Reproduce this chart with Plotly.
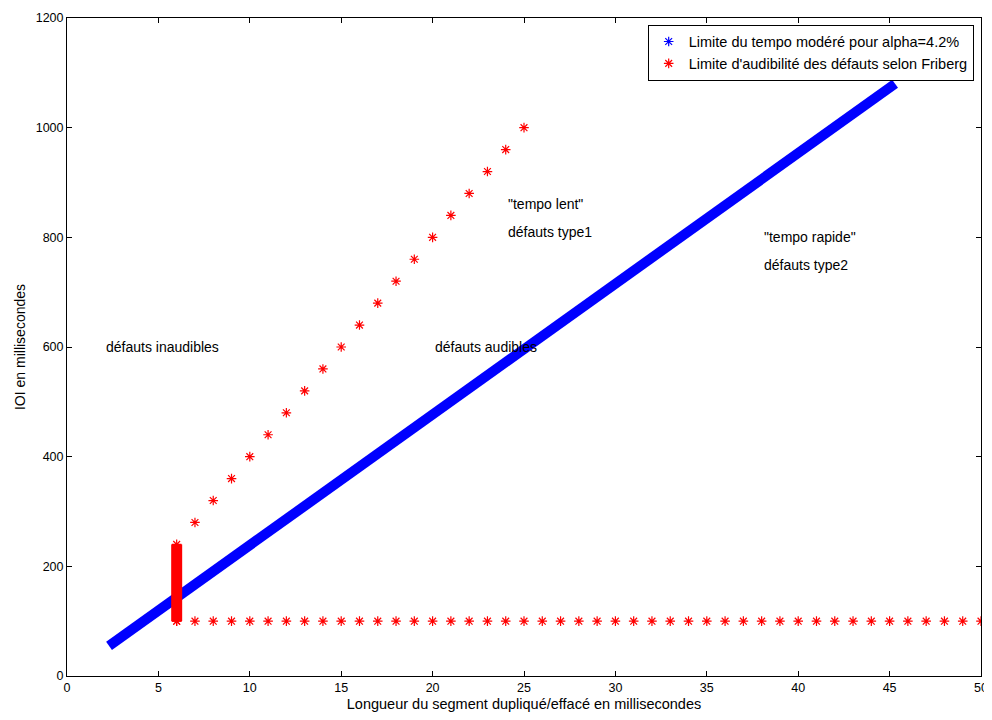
import plotly.graph_objects as go

# limite tempo modéré (alpha = 4.2%) : segment dense d'étoiles bleues
blue_x = [2.3, 45.3]
blue_y = [55, 1080]

# limite Friberg : barre verticale à 6 ms
red_bar_x = [6, 6]
red_bar_y = [100, 240]

# limite Friberg : branche "tempo lent"
red_slope_x = [7, 8, 9, 10, 11, 12, 13, 14, 15, 16, 17, 18, 19, 20, 21, 22, 23, 24, 25]
red_slope_y = [280, 320, 360, 400, 440, 480, 520, 560, 600, 640, 680, 720, 760, 800,
               840, 880, 920, 960, 1000]

# limite Friberg : plancher à 100 ms
red_floor_x = [6, 7, 8, 9, 10, 11, 12, 13, 14, 15, 16, 17, 18, 19, 20, 21, 22, 23, 24,
               25, 26, 27, 28, 29, 30, 31, 32, 33, 34, 35, 36, 37, 38, 39, 40, 41, 42,
               43, 44, 45, 46, 47, 48, 49, 50]
red_floor_y = [100] * len(red_floor_x)

labels = [
    (2, 600, "défauts inaudibles"),
    (20, 600, "défauts audibles"),
    (24, 860, "\"tempo lent\""),
    (24, 810, "défauts type1"),
    (38, 800, "\"tempo rapide\""),
    (38, 750, "défauts type2"),
]

BLUE = "#0000ff"
RED = "#ff0000"


def star(color):
    return dict(color=color, symbol="asterisk-open", size=8, line=dict(color=color, width=1.2))


fig = go.Figure()

fig.add_trace(go.Scatter(x=blue_x, y=blue_y, mode="lines",
                         line=dict(color=BLUE, width=10), showlegend=False))
fig.add_trace(go.Scatter(x=red_bar_x, y=red_bar_y, mode="lines",
                         line=dict(color=RED, width=11), showlegend=False))
fig.add_trace(go.Scatter(x=red_bar_x, y=red_bar_y, mode="markers",
                         marker=star(RED), showlegend=False))
fig.add_trace(go.Scatter(x=red_slope_x, y=red_slope_y, mode="markers",
                         marker=star(RED), showlegend=False))
fig.add_trace(go.Scatter(x=red_floor_x, y=red_floor_y, mode="markers",
                         marker=star(RED), showlegend=False))

# entrées de légende
fig.add_trace(go.Scatter(x=[None], y=[None], mode="markers",
                         name="Limite du tempo modéré pour alpha=4.2%", marker=star(BLUE)))
fig.add_trace(go.Scatter(x=[None], y=[None], mode="markers",
                         name="Limite d'audibilité des défauts selon Friberg", marker=star(RED)))

for x, y, t in labels:
    fig.add_annotation(x=x, y=y, text=t, showarrow=False, xanchor="left",
                       font=dict(size=14, color="black"))

axis_common = dict(showline=True, linecolor="black", linewidth=1, mirror="ticks",
                   ticks="inside", ticklen=5, tickcolor="black", showgrid=False,
                   zeroline=False, automargin=False,
                   tickfont=dict(size=12.5, color="black"))

# la page ajoute ~8 px de marge au body : on compense dans la taille et les marges
fig.update_layout(
    width=984, height=712,
    margin=dict(l=59, r=11, t=10, b=44),
    paper_bgcolor="white", plot_bgcolor="white",
    font=dict(family="Liberation Sans, Arial, sans-serif", color="black", size=12),
    xaxis=dict(range=[0, 50], dtick=5,
               title=dict(text="Longueur du segment dupliqué/effacé en millisecondes",
                          standoff=4, font=dict(size=14.5)), **axis_common),
    yaxis=dict(range=[0, 1200], dtick=200,
               title=dict(text="IOI en millisecondes", standoff=6, font=dict(size=14)),
               **axis_common),
    legend=dict(x=0.992, y=0.99, xanchor="right", yanchor="top",
                bgcolor="white", bordercolor="black", borderwidth=1,
                font=dict(size=14.5), tracegroupgap=0, itemwidth=30),
)

fig.write_html("out.html")
